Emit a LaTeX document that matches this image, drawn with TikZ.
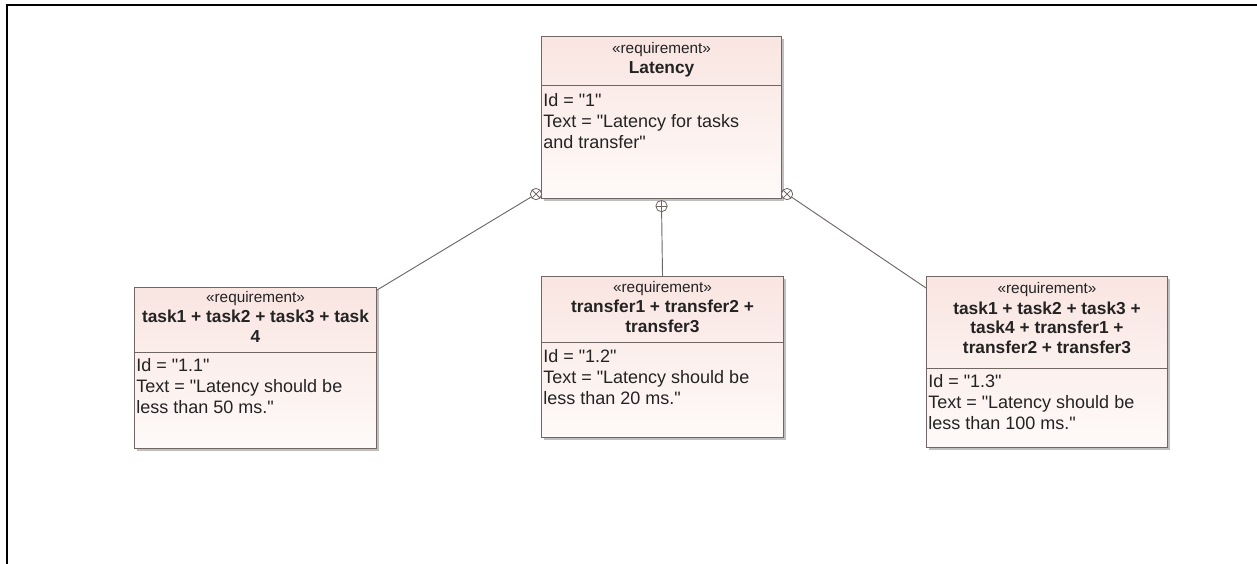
\documentclass[tikz,border=0pt]{standalone}
\usepackage{fontspec}
\setmainfont{Liberation Sans}[Ligatures=TeXOff]
\usetikzlibrary{positioning, calc, shadows}

\definecolor{reqtop}{RGB}{249,229,225}
\definecolor{reqbot}{RGB}{254,250,249}
\definecolor{reqline}{RGB}{112,102,100}
\definecolor{inktext}{RGB}{35,35,35}

\begin{document}
\begin{tikzpicture}[
  x=0.75pt, y=-0.75pt,
  req/.style={draw=reqline, line width=0.8pt, anchor=north west, inner sep=0pt,
    top color=reqtop, bottom color=reqbot,
    drop shadow={shadow xshift=1.8pt, shadow yshift=-1.8pt, fill=black!50, opacity=0.5}},
  stereo/.style={anchor=base, inner sep=0pt, font=\fontsize{11.5}{13}\selectfont, text=inktext},
  % multi-line nodes: base sits on the last line
  reqname/.style={anchor=base, align=center, inner sep=0pt,
    font=\bfseries\fontsize{13}{14.5}\selectfont, text=inktext},
  body/.style={anchor=base west, align=left, inner sep=0pt,
    font=\fontsize{13.5}{15.75}\selectfont, text=inktext},
  sep/.style={draw=reqline, line width=0.7pt},
  conn/.style={draw=reqline, line width=0.7pt},
  xend/.style={circle, draw=reqline, fill=white, minimum size=8.5pt, inner sep=0pt,
    line width=0.6pt,
    path picture={\draw[reqline, line width=0.6pt]
      (path picture bounding box.north west) -- (path picture bounding box.south east)
      (path picture bounding box.north east) -- (path picture bounding box.south west);}},
  pend/.style={circle, draw=reqline, fill=white, minimum size=8.5pt, inner sep=0pt,
    line width=0.6pt,
    path picture={\draw[reqline, line width=0.6pt]
      (path picture bounding box.north) -- (path picture bounding box.south)
      (path picture bounding box.west) -- (path picture bounding box.east);}}
]
\useasboundingbox (0,0) rectangle (1257,564);

% frame
\draw[line width=2pt, black] (7,564) -- (7,5) -- (1257,5);

% parent requirement
\node[req, minimum width=180pt, minimum height=121.5pt] (lat) at (541,36) {};
\node[stereo] at ($(lat.north)+(0,17)$) {«requirement»};
\node[reqname] at ($(lat.north)+(0,37)$) {Latency};
\draw[sep] ($(lat.north west)+(0,49)$) -- ($(lat.north east)+(0,49)$);
\node[body] at ($(lat.north west)+(2,112)$)
  {Id = "1"\\Text = "Latency for tasks\\and transfer"};

% child requirements
\node[req, minimum width=181.5pt, minimum height=120.75pt] (req1) at (134,287) {};
\node[stereo] at ($(req1.north)+(0,15)$) {«requirement»};
\node[reqname] at ($(req1.north)+(0,55)$) {task1 + task2 + task3 + task\\4};
\draw[sep] ($(req1.north west)+(0,65)$) -- ($(req1.north east)+(0,65)$);
\node[body] at ($(req1.north west)+(2,126)$)
  {Id = "1.1"\\Text = "Latency should be\\less than 50 ms."};

\node[req, minimum width=181.5pt, minimum height=120.75pt] (req2) at (541,276) {};
\node[stereo] at ($(req2.north)+(0,16)$) {«requirement»};
\node[reqname] at ($(req2.north)+(0,56)$) {transfer1 + transfer2 +\\transfer3};
\draw[sep] ($(req2.north west)+(0,66)$) -- ($(req2.north east)+(0,66)$);
\node[body] at ($(req2.north west)+(2,128)$)
  {Id = "1.2"\\Text = "Latency should be\\less than 20 ms."};

\node[req, minimum width=180.75pt, minimum height=128.25pt] (req3) at (926,276) {};
\node[stereo] at ($(req3.north)+(0,17)$) {«requirement»};
\node[reqname] at ($(req3.north)+(0,77)$)
  {task1 + task2 + task3 +\\task4 + transfer1 +\\transfer2 + transfer3};
\draw[sep] ($(req3.north west)+(0,92)$) -- ($(req3.north east)+(0,92)$);
\node[body] at ($(req3.north west)+(2,153)$)
  {Id = "1.3"\\Text = "Latency should be\\less than 100 ms."};

% containment ends
\node[xend] (x1) at ($(lat.south west)+(-5,-5)$) {};
\node[pend] (p2) at ($(lat.south)+(0,7)$) {};
\node[xend] (x3) at ($(lat.south east)+(5,-5)$) {};

\draw[conn] ($(req1.north east)+(0,3)$) -- (x1);
\draw[conn] (req2.north) -- (p2);
\draw[conn] ($(req3.north west)+(0,12)$) -- (x3);
\end{tikzpicture}
\end{document}
